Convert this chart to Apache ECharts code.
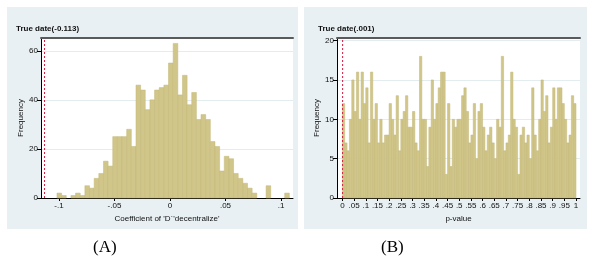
<!DOCTYPE html>
<html>
<head>
<meta charset="utf-8">
<script src="https://cdn.jsdelivr.net/npm/echarts@6/dist/echarts.min.js"></script>
<style>
html,body{margin:0;padding:0;background:#fff;}
#c{width:596px;height:262px;}
</style>
</head>
<body>
<div id="c"></div>
<script>
// ---- Panel A data: histogram of coefficient (50 bins) ----
const aCounts = [2,1,0,1,2,1,5,4,8,10,15,13,25,25,25,28,21,46,44,36,40,44,45,46,55,63,42,50,38,43,32,34,32,23,21,11,17,16,10,8,6,4,2,0,0,5,0,0,0,2];
const aBinStart = -0.1018;
const aBinWidth = 0.004186;
const aXTicks = [-0.1,-0.05,0,0.05,0.1];
const aXTickLabels = ['-.1','-.05','0','.05','.1'];
const aYTicks = [0,20,40,60];
const aTrue = -0.113;
const aTrueLabel = 'True date(-0.113)';
const aXTitle = "Coefficient of 'D`'decentralize'";

// ---- Panel B data: histogram of p-values (100 bins) ----
const bCounts = [12,7,6,10,15,11,16,10,16,12,14,7,16,10,12,7,10,7,8,8,12,10,8,13,6,10,11,13,9,9,11,7,6,18,10,10,4,9,15,10,12,14,16,16,3,12,4,10,9,10,10,13,14,11,7,8,12,5,11,12,9,6,8,9,7,5,10,9,18,6,7,8,16,10,9,3,8,9,7,8,5,14,8,6,10,15,11,13,7,9,14,10,14,14,12,10,7,8,13,12];
const bBinStart = 0;
const bBinWidth = 0.01;
const bXTicks = [0,0.05,0.1,0.15,0.2,0.25,0.3,0.35,0.4,0.45,0.5,0.55,0.6,0.65,0.7,0.75,0.8,0.85,0.9,0.95,1];
const bXTickLabels = ['0','.05','.1','.15','.2','.25','.3','.35','.4','.45','.5','.55','.6','.65','.7','.75','.8','.85','.9','.95','1'];
const bYTicks = [0,5,10,15,20];
const bTrue = 0.001;
const bTrueLabel = 'True date(.001)';
const bXTitle = 'p-value';
const yTitle = 'Frequency';
const panelLabels = ['(A)','(B)'];

function toBins(counts, start, width){
  return counts.map((c,i)=>[start+i*width, start+(i+1)*width, c]);
}
const FONT = 'Liberation Sans, Arial, sans-serif';
const BAR_FILL = '#d1c689';
const BAR_STROKE = '#c2b776';

function renderItem(params, api){
  const x0 = api.value(0), x1 = api.value(1), y = api.value(2);
  if (!y) return null;
  const p0 = api.coord([x0, y]);
  const p1 = api.coord([x1, 0]);
  return {
    type: 'rect',
    shape: {x: p0[0], y: p0[1], width: p1[0]-p0[0], height: p1[1]-p0[1]},
    style: {fill: BAR_FILL, stroke: BAR_STROKE, lineWidth: 0.5}
  };
}

function fmtFactory(ticks, labels){
  return function(v){
    for (let i=0;i<ticks.length;i++){ if (Math.abs(ticks[i]-v) < 1e-9) return labels[i]; }
    return '';
  };
}

const axisLabelStyle = {fontFamily: FONT, fontSize: 8, color: '#111'};

function bottomX(gridIndex, min, max, ticks, labels, title){
  return {
    gridIndex, type:'value', position:'bottom', min, max,
    axisLine:{show:true, onZero:false, lineStyle:{color:'#000', width:1}},
    axisTick:{show:true, length:3, customValues: ticks, lineStyle:{color:'#000'}},
    axisLabel:{...axisLabelStyle, margin:4, customValues: ticks, formatter: fmtFactory(ticks, labels)},
    splitLine:{show:false},
    name: title, nameLocation:'middle', nameGap: 14,
    nameTextStyle:{fontFamily: FONT, fontSize: 8, color:'#111'}
  };
}
function topX(gridIndex, min, max){
  return {
    gridIndex, type:'value', position:'top', min, max,
    axisLine:{show:true, onZero:false, lineStyle:{color:'#5a5a5a', width:2}},
    axisTick:{show:false}, axisLabel:{show:false}, splitLine:{show:false}
  };
}
function leftY(gridIndex, max, interval){
  return {
    gridIndex, type:'value', position:'left', min:0, max, interval,
    axisLine:{show:true, onZero:false, lineStyle:{color:'#000', width:1}},
    axisTick:{show:true, length:4, lineStyle:{color:'#000'}},
    axisLabel:{...axisLabelStyle, margin:3, showMaxLabel:false},
    splitLine:{show:true, lineStyle:{color:'#e3ecef', width:1}},
    name: yTitle, nameLocation:'middle', nameGap: 16, nameRotate: 90,
    nameTextStyle:{fontFamily: FONT, fontSize: 8, color:'#111'}
  };
}

const aYMax = 65.2, bYMax = 20.33;

const option = {
  animation: false,
  backgroundColor: '#ffffff',
  graphic: [
    {type:'rect', shape:{x:7, y:7, width:291, height:222}, style:{fill:'#e8f0f3'}, z:-10},
    {type:'rect', shape:{x:304, y:7, width:283, height:222}, style:{fill:'#e8f0f3'}, z:-10},
    {type:'rect', shape:{x:41, y:38, width:252, height:160}, style:{fill:'#ffffff'}, z:-9},
    {type:'rect', shape:{x:337, y:38, width:243, height:160}, style:{fill:'#ffffff'}, z:-9},
    {type:'text', left:16, top:25, style:{text:aTrueLabel, font:'bold 8px ' + FONT, fill:'#111'}},
    {type:'text', left:318, top:25, style:{text:bTrueLabel, font:'bold 8px ' + FONT, fill:'#111'}},
    {type:'text', left:93, top:239, style:{text:panelLabels[0], font:'17px Liberation Serif, Times New Roman, serif', fill:'#000'}},
    {type:'text', left:381, top:239, style:{text:panelLabels[1], font:'17px Liberation Serif, Times New Roman, serif', fill:'#000'}}
  ],
  grid: [
    {left:41, top:38, width:252, height:160},
    {left:337, top:38, width:243, height:160}
  ],
  xAxis: [
    bottomX(0, -0.1162, 0.1108, aXTicks, aXTickLabels, aXTitle),
    bottomX(1, -0.0231, 1.017, bXTicks, bXTickLabels, bXTitle),
    topX(0, -0.1162, 0.1108),
    topX(1, -0.0231, 1.017)
  ],
  yAxis: [
    leftY(0, aYMax, 20),
    leftY(1, bYMax, 5)
  ],
  series: [
    {type:'custom', xAxisIndex:0, yAxisIndex:0, renderItem, encode:{x:[0,1], y:2}, data: toBins(aCounts, aBinStart, aBinWidth)},
    {type:'custom', xAxisIndex:1, yAxisIndex:1, renderItem, encode:{x:[0,1], y:2}, data: toBins(bCounts, bBinStart, bBinWidth)},
    {type:'line', xAxisIndex:0, yAxisIndex:0, symbol:'none', data:[[aTrue,0],[aTrue,aYMax]],
      lineStyle:{color:'#d4143c', width:1, type:[2,2]}, z:5},
    {type:'line', xAxisIndex:1, yAxisIndex:1, symbol:'none', data:[[bTrue,0],[bTrue,bYMax]],
      lineStyle:{color:'#d4143c', width:1, type:[2,2]}, z:5}
  ]
};
const chart = echarts.init(document.getElementById('c'), null, {renderer:'canvas'});
chart.setOption(option);
</script>
</body>
</html>
